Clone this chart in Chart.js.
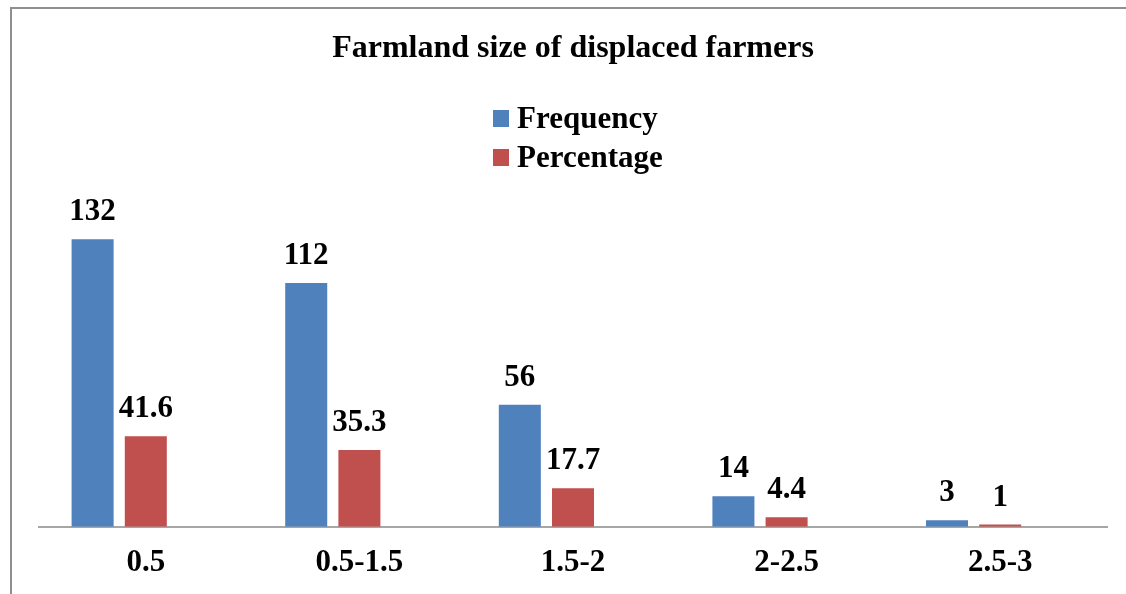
<!DOCTYPE html>
<html>
<head>
<meta charset="utf-8">
<title>Farmland size of displaced farmers</title>
<script src="https://cdn.jsdelivr.net/npm/chart.js@4.4.1/dist/chart.umd.min.js"></script>
<style>
  html, body { margin: 0; padding: 0; background: #fff; overflow: hidden; }
  #wrap { position: relative; width: 1126px; height: 594px; overflow: hidden; }
  /* thin grey frame round the chart, open on the right and bottom */
  #frame { position: absolute; left: 10px; top: 7px; right: -4px; bottom: -4px;
           border-top: 2px solid #8f8f8f; border-left: 2px solid #8f8f8f; }
  #farmChart { position: absolute; left: 0; top: 0; }
</style>
</head>
<body>
<div id="wrap">
  <div id="frame"></div>
  <canvas id="farmChart" width="1126" height="600"></canvas>
</div>
<script>
const sizeClasses = ['0.5', '0.5-1.5', '1.5-2', '2-2.5', '2.5-3'];
const frequency = [132, 112, 56, 14, 3];
const percentage = [41.6, 35.3, 17.7, 4.4, 1];
const seriesNames = ['Frequency', 'Percentage'];
const seriesColors = ['#4F81BD', '#C0504D'];

const FONT = '"Liberation Serif", "Times New Roman", serif';

// legend stacked one entry per row
const stackedLegend = {
    id: 'stackedLegend',
    afterDraw(chart) {
        const ctx = chart.ctx;
        ctx.save();
        ctx.font = 'bold 31px ' + FONT;
        ctx.textAlign = 'left';
        ctx.textBaseline = 'alphabetic';
        seriesNames.forEach((name, i) => {
            const y = 128 + i * 39;
            ctx.fillStyle = seriesColors[i];
            ctx.fillRect(493, y - 18, 16, 17);
            ctx.fillStyle = '#000';
            ctx.fillText(name, 517, y);
        });
        ctx.restore();
    }
};

// value printed above each bar
const valueLabels = {
    id: 'valueLabels',
    afterDatasetsDraw(chart) {
        const ctx = chart.ctx;
        ctx.save();
        ctx.font = 'bold 31px ' + FONT;
        ctx.fillStyle = '#000';
        ctx.textAlign = 'center';
        ctx.textBaseline = 'alphabetic';
        [0, 1].forEach(di => {
            const values = chart.data.datasets[di].data;
            chart.getDatasetMeta(di).data.forEach((bar, i) => {
                ctx.fillText(String(values[i]), bar.x, bar.y - 19);
            });
        });
        ctx.restore();
    }
};

const ctx = document.getElementById('farmChart');

new Chart(ctx, {
    type: 'bar',
    data: {
        labels: sizeClasses,
        datasets: [
            { label: seriesNames[0], data: frequency, backgroundColor: seriesColors[0] },
            { label: seriesNames[1], data: percentage, backgroundColor: seriesColors[1] },
            // empty third slot keeps the pair left of the category centre
            { label: '', data: sizeClasses.map(() => null), backgroundColor: 'rgba(0,0,0,0)' }
        ]
    },
    options: {
        responsive: false,
        animation: false,
        devicePixelRatio: 1,
        categoryPercentage: 0.747,
        barPercentage: 0.79,
        layout: {
            padding: { left: 39, right: 19, top: 0, bottom: 0 }
        },
        plugins: {
            legend: { display: false },
            tooltip: { enabled: false },
            title: {
                display: true,
                text: 'Farmland size of displaced farmers',
                color: '#000',
                font: { family: FONT, size: 32, weight: 'bold' },
                padding: { top: 30, bottom: 110 }
            }
        },
        scales: {
            x: {
                grid: { display: false, drawTicks: false },
                border: { display: true, color: '#a6a6a6', width: 2 },
                ticks: {
                    color: '#000',
                    padding: 18,
                    font: { family: FONT, size: 31, weight: 'bold' }
                }
            },
            y: {
                display: false,
                min: 0,
                max: 160
            }
        }
    },
    plugins: [valueLabels, stackedLegend]
});
</script>
</body>
</html>
